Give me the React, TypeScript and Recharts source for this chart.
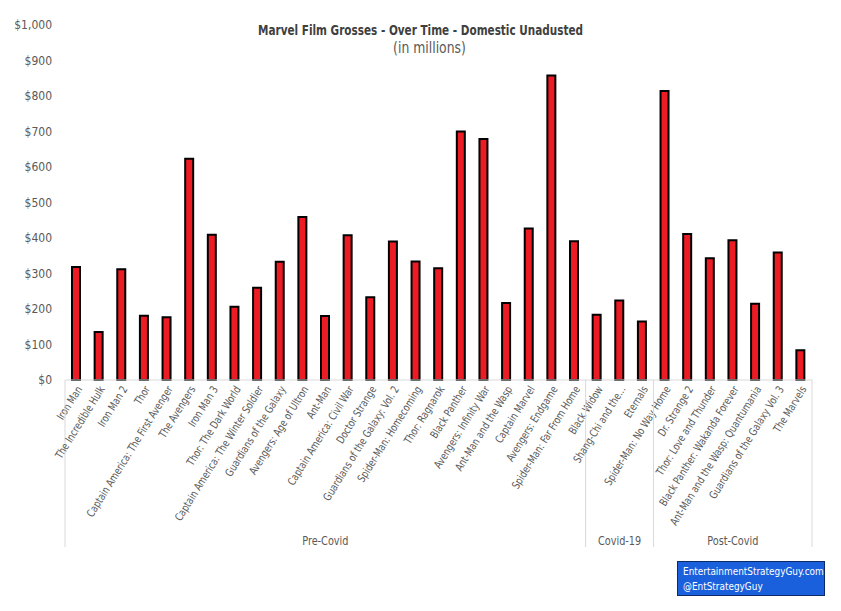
import React from "react";
import { BarChart, Bar, XAxis, YAxis } from "recharts";

const films = [
  "Iron Man", "The Incredible Hulk", "Iron Man 2", "Thor", "Captain America: The First Avenger",
  "The Avengers", "Iron Man 3", "Thor: The Dark World", "Captain America: The Winter Soldier",
  "Guardians of the Galaxy", "Avengers: Age of Ultron", "Ant-Man", "Captain America: Civil War",
  "Doctor Strange", "Guardians of the Galaxy: Vol. 2", "Spider-Man: Homecoming", "Thor: Ragnarok",
  "Black Panther", "Avengers: Infinity War", "Ant-Man and the Wasp", "Captain Marvel",
  "Avengers: Endgame", "Spider-Man: Far From Home",
  "Black Widow", "Shang-Chi and the...", "Eternals",
  "Spider-Man: No Way Home", "Dr. Strange 2", "Thor: Love and Thunder", "Black Panther: Wakanda Forever",
  "Ant-Man and the Wasp: Quantumania", "Guardians of the Galaxy Vol. 3", "The Marvels",
];

const grosses = [
  318, 135, 312, 181, 177, 623, 409, 206, 260, 333, 459, 180, 408, 233, 390, 334, 315,
  700, 679, 217, 427, 858, 391,
  184, 224, 165,
  814, 411, 343, 394, 215, 359, 84,
];

const groupNames = ["Pre-Covid", "Covid-19", "Post-Covid"];
const groupSizes = [23, 3, 7];

const yTicks = [0, 100, 200, 300, 400, 500, 600, 700, 800, 900, 1000];

const data = films.map((name, i) => ({ name, gross: grosses[i] }));

const FONT = '"Liberation Sans Narrow", "DejaVu Sans Condensed", "Roboto Condensed", sans-serif';
const GREY = "#595959";
const LINE = "#d9d9d9";

// first index of each group
const groupStarts = groupSizes.map((_, g) => groupSizes.slice(0, g).reduce((a, b) => a + b, 0));

const FilmTick = (props: any) => {
  const { x, y, payload, index } = props;
  const half = payload && payload.offset ? payload.offset : 11.3;
  const g = groupStarts.indexOf(index);
  const last = index === films.length - 1;
  const tx = x + 3;
  const ty = y + 7;
  return (
    <g>
      <text
        x={0}
        y={0}
        dy="0.35em"
        transform={`translate(${tx}, ${ty}) rotate(-58) scale(0.87, 1)`}
        textAnchor="end"
        fontSize={11}
        fontFamily={FONT}
        fill={GREY}
      >
        {payload.value}
      </text>
      {g >= 0 && (
        <>
          <line x1={x - half} y1={y} x2={x - half} y2={y + 167} stroke={LINE} strokeWidth={1} />
          <text
            x={0}
            y={0}
            dy="0.35em"
            transform={`translate(${x - half + groupSizes[g] * half}, ${y + 161}) scale(0.9, 1)`}
            textAnchor="middle"
            fontSize={12}
            fontFamily={FONT}
            fill={GREY}
          >
            {groupNames[g]}
          </text>
        </>
      )}
      {last && <line x1={x + half} y1={y} x2={x + half} y2={y + 167} stroke={LINE} strokeWidth={1} />}
    </g>
  );
};

export default function App() {
  return (
    <div style={{ position: "relative", width: 841, height: 611, background: "#fff", fontFamily: FONT }}>
      <style>{`body{margin:0}`}</style>
      <div
        style={{
          position: "absolute", top: 22, left: 0, width: 841, textAlign: "center",
          fontSize: 14, fontWeight: "bold", color: "#404040",
          transform: "scaleX(0.83)", whiteSpace: "nowrap",
        }}
      >
        Marvel Film Grosses - Over Time - Domestic Unadusted
      </div>
      <div
        style={{
          position: "absolute", top: 39, left: 9, width: 841, textAlign: "center",
          fontSize: 15, color: GREY, transform: "scaleX(0.92)",
        }}
      >
        (in millions)
      </div>
      <BarChart
        width={841}
        height={611}
        data={data}
        margin={{ top: 25, right: 29, bottom: 0, left: 0 }}
        barCategoryGap={0}
      >
        <XAxis
          dataKey="name"
          interval={0}
          height={231}
          tickLine={false}
          tickSize={0}
          tickMargin={0}
          axisLine={{ stroke: LINE }}
          tick={<FilmTick />}
        />
        <YAxis
          width={65}
          domain={[0, 1000]}
          ticks={yTicks}
          axisLine={false}
          tickLine={false}
          tickSize={0}
          tickMargin={13}
          tick={{ fill: GREY, fontSize: 12, fontFamily: FONT }}
          tickFormatter={(v: number) => `$${v.toLocaleString("en-US")}`}
        />
        <Bar dataKey="gross" fill="#ED1C24" stroke="#000" strokeWidth={2} barSize={8} isAnimationActive={false} />
      </BarChart>
      <div
        style={{
          position: "absolute", left: 677, top: 561, width: 141, height: 31,
          background: "#1a5fdb", border: "1px solid #0b2a66", color: "#fff",
          fontSize: 11, lineHeight: "15px", padding: "2px 0 0 5px", boxSizing: "content-box",
          overflow: "hidden",
        }}
      >
        <div style={{ transform: "scaleX(0.9)", transformOrigin: "left", whiteSpace: "nowrap" }}>
          EntertainmentStrategyGuy.com
        </div>
        <div style={{ transform: "scaleX(0.9)", transformOrigin: "left", whiteSpace: "nowrap" }}>
          @EntStrategyGuy
        </div>
      </div>
    </div>
  );
}
